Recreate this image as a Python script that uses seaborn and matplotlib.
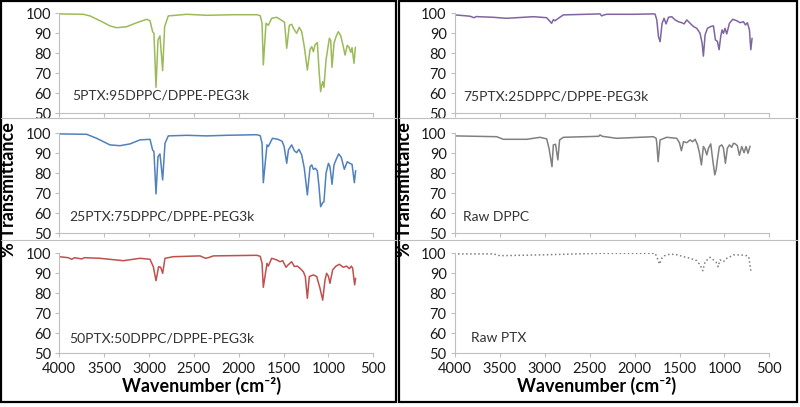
import numpy as np
import pandas as pd
import matplotlib
matplotlib.use('Agg')
import matplotlib.pyplot as plt
import seaborn as sns
from matplotlib.patches import Rectangle
from matplotlib.lines import Line2D

# FTIR spectra (wavenumber, % transmittance)
wn_5ptx = [4000, 3732, 3658, 3547, 3435, 3361, 3249, 3138, 3026, 2989, 2960, 2945, 2922, 2900, 2878,
           2848, 2826, 2785, 2580, 2357, 2060, 1800, 1760, 1740, 1726, 1696, 1670, 1633, 1577, 1521,
           1490, 1465, 1436, 1410, 1384, 1354, 1325, 1298, 1269, 1235, 1205, 1186, 1168, 1150, 1124,
           1105, 1087, 1075, 1064, 1050, 1027, 990, 975, 960, 938, 916, 890, 863, 834, 815, 790,
           770, 752, 737, 715, 700]
t_5ptx = [99.7, 99.5, 98.7, 96.3, 93.7, 92.8, 93.3, 95.3, 97.0, 96.3, 90.8, 90.0, 63.0, 86.7, 88.7,
          71.3, 93.3, 98.7, 99.5, 99.0, 99.3, 99.3, 98.8, 95.0, 74.2, 95.0, 94.0, 97.5, 98.0, 96.5,
          95.5, 82.5, 94.0, 94.5, 92.0, 90.0, 93.0, 90.8, 83.3, 71.6, 82.0, 83.3, 80.8, 84.2, 85.4,
          71.6, 60.8, 64.0, 65.8, 63.0, 76.6, 87.5, 86.5, 73.0, 85.0, 88.3, 90.8, 88.8, 83.3, 79.1, 84.0,
          83.0, 80.5, 82.8, 75.0, 83.0]

wn_25ptx = [4000, 3695, 3584, 3435, 3324, 3212, 3101, 2989, 2960, 2945, 2922, 2900, 2878, 2848, 2822,
            2785, 2580, 2357, 2140, 1800, 1760, 1740, 1726, 1685, 1670, 1624, 1563, 1516, 1494, 1465,
            1446, 1410, 1380, 1354, 1329, 1298, 1269, 1235, 1205, 1186, 1168, 1146, 1124, 1105, 1087,
            1064, 1050, 1027, 1000, 983, 960, 938, 916, 886, 857, 823, 790, 763, 737, 711, 697]
t_25ptx = [99.7, 99.5, 97.5, 94.2, 93.8, 94.7, 96.7, 97.0, 91.7, 90.8, 69.7, 88.3, 89.7, 76.7, 95.0,
           98.7, 99.0, 98.7, 99.0, 99.3, 98.8, 95.0, 75.3, 94.2, 93.4, 97.5, 97.0, 96.0, 93.4, 85.0,
           91.7, 94.2, 91.3, 90.3, 92.0, 89.2, 82.5, 69.2, 83.3, 84.2, 82.0, 82.5, 81.3, 73.3, 63.3,
           65.3, 65.8, 80.0, 85.0, 83.3, 74.5, 84.2, 86.7, 89.7, 88.0, 82.0, 85.8, 85.0, 84.5, 75.3, 81.3]

wn_50ptx = [4000, 3900, 3862, 3830, 3751, 3720, 3547, 3287, 3101, 2989, 2952, 2922, 2893, 2870, 2848,
            2822, 2729, 2432, 2370, 2340, 2283, 1800, 1760, 1740, 1726, 1685, 1670, 1633, 1577, 1540,
            1510, 1473, 1450, 1410, 1380, 1347, 1317, 1280, 1258, 1235, 1213, 1168, 1131, 1094, 1064,
            1038, 1020, 1000, 983, 953, 916, 879, 834, 797, 767, 745, 730, 708, 697]
t_50ptx = [98.3, 97.8, 97.0, 97.8, 97.2, 97.8, 97.5, 96.3, 97.5, 97.0, 93.3, 86.3, 93.3, 93.0, 90.0,
           97.5, 98.3, 98.7, 97.5, 97.8, 98.7, 99.0, 98.5, 95.0, 83.0, 95.0, 93.6, 97.5, 96.7, 95.8,
           96.3, 93.0, 94.2, 95.8, 93.4, 93.6, 92.5, 90.8, 88.4, 77.5, 88.4, 89.2, 88.4, 82.5, 76.6,
           86.7, 90.0, 88.5, 85.0, 91.7, 93.6, 94.5, 93.0, 93.6, 92.3, 93.6, 92.5, 84.2, 87.5]

wn_75ptx = [4000, 3870, 3830, 3790, 3760, 3740, 3573, 3425, 3128, 2979, 2924, 2905, 2886, 2849, 2794,
            2385, 2367, 2340, 2311, 2014, 1791, 1772, 1753, 1734, 1716, 1694, 1672, 1649, 1623, 1586,
            1549, 1512, 1475, 1449, 1419, 1382, 1345, 1308, 1271, 1248, 1234, 1215, 1189, 1152, 1122,
            1100, 1078, 1059, 1041, 1026, 1011, 993, 974, 944, 907, 863, 825, 788, 766, 744, 721, 706, 692]
t_75ptx = [99.2, 98.7, 98.5, 97.8, 98.4, 98.3, 98.0, 97.5, 98.3, 97.8, 95.0, 96.8, 96.3, 97.5, 99.2,
           99.7, 98.7, 99.2, 99.5, 99.5, 99.7, 99.6, 96.7, 88.3, 85.8, 95.0, 97.5, 94.7, 98.0, 98.3,
           96.7, 95.8, 95.3, 94.7, 96.7, 95.0, 93.4, 92.5, 90.0, 85.0, 78.6, 89.2, 92.5, 93.4, 93.7,
           86.7, 86.0, 81.8, 88.4, 91.7, 90.0, 92.5, 89.7, 95.0, 97.0, 96.3, 95.3, 95.8, 94.2, 95.3, 91.7, 81.8, 87.5]

wn_dppc = [4000, 3536, 3462, 3202, 3053, 2979, 2953, 2920, 2905, 2880, 2855, 2835, 2794, 2400, 2385,
           2360, 2200, 1791, 1760, 1753, 1738, 1716, 1642, 1531, 1501, 1479, 1456, 1419, 1382, 1355,
           1326, 1301, 1278, 1256, 1234, 1215, 1196, 1178, 1152, 1130, 1107, 1092, 1078, 1056, 1030,
           1011, 989, 967, 944, 918, 900, 878, 856, 833, 807, 781, 759, 737, 714]
t_dppc = [98.7, 98.3, 97.0, 97.0, 98.0, 97.2, 92.5, 83.3, 94.2, 94.5, 86.7, 96.7, 98.0, 98.5, 99.2,
          98.5, 97.5, 98.3, 97.5, 95.0, 85.8, 96.7, 98.0, 97.5, 95.3, 91.3, 95.8, 95.3, 96.7, 95.8,
          97.0, 94.5, 90.3, 84.2, 93.4, 92.0, 89.2, 92.5, 94.7, 86.7, 79.2, 81.7, 86.7, 93.4, 94.2,
          92.7, 85.0, 92.5, 94.2, 93.0, 95.0, 94.7, 93.8, 89.0, 93.4, 90.3, 93.4, 90.0, 93.6]

wn_ptx = [4000, 3573, 3499, 3053, 2385, 1791, 1772, 1753, 1723, 1697, 1670, 1605, 1531, 1456, 1382,
          1308, 1271, 1241, 1215, 1159, 1122, 1092, 1070, 1048, 1011, 974, 937, 900, 825, 751, 729, 714, 706]
t_ptx = [99.7, 99.7, 98.8, 99.2, 100.0, 100.0, 100.0, 98.3, 94.6, 97.5, 98.7, 99.6, 99.3, 98.3, 97.5,
         96.3, 94.2, 91.3, 95.8, 98.0, 96.7, 95.5, 93.3, 96.7, 95.8, 97.5, 98.3, 99.2, 99.2, 98.8, 98.3, 93.8, 91.3]

labels = ['5PTX:95DPPC/DPPE-PEG3k', '25PTX:75DPPC/DPPE-PEG3k', '50PTX:50DPPC/DPPE-PEG3k',
          '75PTX:25DPPC/DPPE-PEG3k', 'Raw DPPC', 'Raw PTX']
colors = ['#9BBB59', '#4F81BD', '#C0504D', '#8064A2', '#808080', '#7F7F7F']
spectra = [(wn_5ptx, t_5ptx), (wn_25ptx, t_25ptx), (wn_50ptx, t_50ptx),
           (wn_75ptx, t_75ptx), (wn_dppc, t_dppc), (wn_ptx, t_ptx)]

sns.set_style('white')
plt.rcParams['font.family'] = ['Lato', 'DejaVu Sans']

W, H = 800, 407
fig = plt.figure(figsize=(W / 100, H / 100), dpi=100)

def rect(x0, x1, ytop, ybot):
    return [x0 / W, 1 - ybot / H, (x1 - x0) / W, (ybot - ytop) / H]

cols = [(59.3, 373.3), (455, 769.3)]
rows = [(13.3, 113.3), (133.3, 233.3), (253.3, 353.3)]
label_pos = [(3860, 59), (3890, 58.3), (3890, 57.6), (3911, 58.3), (3911, 58), (3822, 57.5)]

for i, ((wn, tr), lab, col) in enumerate(zip(spectra, labels, colors)):
    c, r = divmod(i, 3)
    ax = fig.add_axes(rect(cols[c][0], cols[c][1], rows[r][0], rows[r][1]))
    df = pd.DataFrame({'wn': wn, 't': tr})
    sns.lineplot(data=df, x='wn', y='t', ax=ax, color=col, lw=1.1, estimator=None,
                 linestyle=':' if lab == 'Raw PTX' else '-')
    ax.set_xlim(4000, 500)
    ax.set_ylim(50, 100)
    ax.set_xticks(np.arange(500, 4001, 500))
    ax.set_yticks(np.arange(50, 101, 10))
    ax.set_xlabel('')
    ax.set_ylabel('')
    for s in ['top', 'right']:
        ax.spines[s].set_visible(False)
    for s in ['left', 'bottom']:
        ax.spines[s].set_color('#bfbfbf')
        ax.spines[s].set_linewidth(0.8)
    ax.tick_params(axis='both', colors='#bfbfbf', labelcolor='#1a1a1a', labelsize=10.5,
                   length=3, width=0.8, direction='out', pad=3)
    ax.tick_params(axis='x', pad=3.5)
    ax.tick_params(axis='x', bottom=True)
    ax.tick_params(axis='y', left=True)
    if r < 2:
        ax.set_xticklabels([])
    ax.text(label_pos[i][0], label_pos[i][1], lab, fontsize=10, color='#333333',
            ha='left', va='center')

# column frames and panel separators
for x0, x1 in [(1, 396), (399, 797)]:
    fig.add_artist(Rectangle((x0 / W, 1 - 402 / H), (x1 - x0) / W, 401 / H,
                             transform=fig.transFigure, fill=False, ec='black', lw=1.6))
    for yy in [118, 240]:
        fig.add_artist(Line2D([x0 / W, x1 / W], [1 - yy / H, 1 - yy / H],
                              transform=fig.transFigure, color='#bfbfbf', lw=0.8))

for xc in [201.7, 596.7]:
    fig.text(xc / W, 1 - 386 / H, 'Wavenumber (cm⁻²)', fontsize=13, fontweight='bold',
             ha='center', va='center', color='black')
for xc in [9, 405]:
    fig.text(xc / W, 1 - 190 / H, '% Transmittance', fontsize=13, fontweight='bold',
             rotation=90, ha='center', va='center', color='black')

fig.savefig('out.png', dpi=100)
